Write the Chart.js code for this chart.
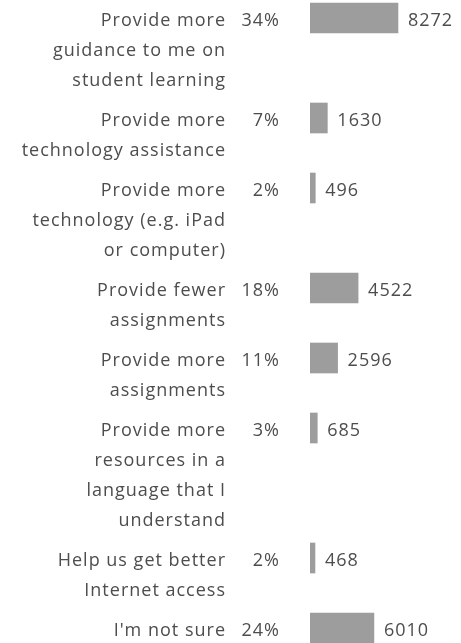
<!DOCTYPE html>
<html>
<head>
<meta charset="utf-8">
<script src="https://cdn.jsdelivr.net/npm/chart.js@4.4.1/dist/chart.umd.min.js"></script>
<style>
  html, body { margin: 0; padding: 0; background: #fff; }
  canvas { display: block; }
</style>
</head>
<body>
<canvas id="answersChart" width="461" height="643"></canvas>
<script>
// ============================
// DATA
// ============================
const categories = [
  ["Provide more", "guidance to me on", "student learning"],
  ["Provide more", "technology assistance"],
  ["Provide more", "technology (e.g. iPad", "or computer)"],
  ["Provide fewer", "assignments"],
  ["Provide more", "assignments"],
  ["Provide more", "resources in a", "language that I", "understand"],
  ["Help us get better", "Internet access"],
  ["I'm not sure"]
];
const percentLabels = ["34%", "7%", "2%", "18%", "11%", "3%", "2%", "24%"];
const counts = [8272, 1630, 496, 4522, 2596, 685, 468, 6010];

// ============================
// ROW POSITIONS (3 units per text line + 1 unit gap)
// ============================
const rowPositions = [];
let cursor = 0;
categories.forEach(lines => {
  rowPositions.push(cursor);
  cursor += lines.length * 3 + 1;
});

const textColor = "#4d4d4d";
const textFont = "18px 'Open Sans'";

// labels on the left, percentages and counts next to the bars
const rowLabels = {
  id: "rowLabels",
  afterDatasetsDraw(chart) {
    const { ctx } = chart;
    const meta = chart.getDatasetMeta(0);
    ctx.save();
    ctx.font = textFont;
    ctx.letterSpacing = "1px";
    ctx.fillStyle = textColor;
    ctx.textBaseline = "alphabetic";
    meta.data.forEach((bar, i) => {
      const base = bar.y + 8;
      ctx.textAlign = "right";
      categories[i].forEach((line, n) => {
        ctx.fillText(line, 226, base + n * 30);
      });
      ctx.fillText(percentLabels[i], 280, base);
      ctx.textAlign = "left";
      ctx.fillText(String(counts[i]), bar.x + 10, base);
    });
    ctx.restore();
  }
};

const ctx = document.getElementById("answersChart").getContext("2d");

const chart = new Chart(ctx, {
  type: "bar",
  data: {
    datasets: [{
      data: counts.map((v, i) => ({ x: v, y: rowPositions[i] })),
      backgroundColor: "#9d9d9d",
      borderWidth: 0,
      barThickness: 30
    }]
  },
  options: {
    indexAxis: "y",
    responsive: false,
    animation: false,
    layout: { padding: { left: 310, right: 0, top: 0, bottom: 0 } },
    plugins: {
      legend: { display: false },
      tooltip: { enabled: false }
    },
    scales: {
      x: { type: "linear", min: 0, max: 14200, display: false },
      y: {
        type: "linear",
        min: -1.8,
        max: 62.5,
        reverse: true,
        offset: false,
        grid: { offset: false },
        display: false
      }
    }
  },
  plugins: [rowLabels]
});
</script>
</body>
</html>
